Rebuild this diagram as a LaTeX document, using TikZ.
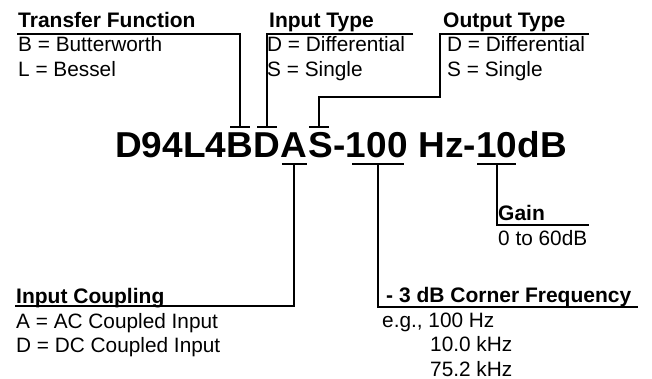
\documentclass[tikz,border=0pt]{standalone}
\usepackage{fontspec}
\setmainfont{Liberation Sans}
\begin{document}
\begin{tikzpicture}[x=1pt,y=-1pt,
  lbl/.style={anchor=base west,inner sep=0pt,font=\fontsize{20.8}{24}\selectfont},
  head/.style={anchor=base west,inner sep=0pt,font=\fontsize{21}{24}\selectfont\bfseries},
  big/.style={anchor=base west,inner sep=0pt,font=\fontsize{36}{42}\selectfont\bfseries},
  wire/.style={line width=1.7pt,line join=miter}]
\useasboundingbox (0,0) rectangle (652,379);
\newcommand{\bx}[1]{\scalebox{1.028}[1]{#1}}
% part number
\node[big] (p1) at (115,158) {\bx{D94L4}};
\node[big] (pB) at (p1.base east) {\bx{B}};
\node[big] (pD) at (pB.base east) {\bx{D}};
\node[big] (pA) at (pD.base east) {\bx{A}};
\node[big] (pS) at (pA.base east) {\bx{S}};
\node[big] (p2) at (pS.base east) {\bx{-}};
\node[big] (p100) at (p2.base east) {\bx{100}};
\node[big] (p3) at (p100.base east) {\bx{ Hz-}};
\node[big] (p10) at (p3.base east) {\bx{10}};
\node[big] (p4) at (p10.base east) {\bx{dB}};
% mark points
\coordinate (bB) at ([yshift=31.3pt]pB.base);
\coordinate (bD) at ([yshift=31.3pt]pD.base);
\coordinate (bS) at ([yshift=31.3pt,xshift=-1.5pt]pS.base);
\coordinate (uA) at ([yshift=-6pt]pA.base);
\coordinate (u100) at ([yshift=-6pt,xshift=1.5pt]p100.base);
\coordinate (u10) at ([yshift=-6pt]p10.base);
% Transfer function
\node[head] (tf) at (18,27.7) {Transfer Function};
\node[lbl] (tf1) at (18,51.7) {B = Butterworth};
\node[lbl] (tf2) at (18,76.7) {L = Bessel};
\coordinate (tfa) at (17,34);
\draw[wire] (tfa) -- (tfa -| bB) -- (bB);
\draw[wire] ([xshift=-10pt]bB) -- ([xshift=10pt]bB);
% Input type
\node[head] (it) at (269,27.7) {Input Type};
\node[lbl] (it1) at (267,51.7) {D = Differential};
\node[lbl] (it2) at (267,76.7) {S = Single};
\coordinate (ita) at (413,34);
\draw[wire] (ita) -- (ita -| bD) -- (bD);
\draw[wire] ([xshift=-10pt]bD) -- ([xshift=10pt]bD);
% Output type
\node[head] (ot) at (443,27.7) {Output Type};
\node[lbl] (ot1) at (447,51.7) {D = Differential};
\node[lbl] (ot2) at (447,76.7) {S = Single};
\coordinate (ota) at (589,34);
\coordinate (otb) at (440,34);
\coordinate (otc) at (440,96.7);
\draw[wire] (ota) -- (otb) -- (otc) -- (otc -| bS) -- (bS);
\draw[wire] ([xshift=-10pt]bS) -- ([xshift=10pt]bS);
% Input coupling
\node[head] (ic) at (16,303.3) {Input Coupling};
\node[lbl] (ic1) at (16,328.3) {A = AC Coupled Input};
\node[lbl] (ic2) at (16,352.7) {D = DC Coupled Input};
\coordinate (ica) at (15,306);
\draw[wire] ([xshift=-12.5pt]uA) -- ([xshift=12.5pt]uA);
\draw[wire] (uA) -- (uA |- ica) -- (ica);
% Corner frequency
\node[head] (cf) at (386,302.7) {- 3 dB Corner Frequency};
\node[lbl] (cf1) at (382,327.3) {e.g., 100 Hz};
\node[lbl] (cf2) at (430,351.7) {10.0 kHz};
\node[lbl] (cf3) at (430,376) {75.2 kHz};
\coordinate (cfa) at (638,307);
\draw[wire] ([xshift=-26pt]u100) -- ([xshift=26pt]u100);
\draw[wire] (u100) -- (u100 |- cfa) -- (cfa);
% Gain
\node[head] (gn) at (498,220) {Gain};
\node[lbl] (gn1) at (498,245) {0 to 60dB};
\coordinate (gna) at (589,225);
\draw[wire] ([xshift=-19.5pt]u10) -- ([xshift=19.5pt]u10);
\draw[wire] (u10) -- (u10 |- gna) -- (gna);
\end{tikzpicture}
\end{document}
